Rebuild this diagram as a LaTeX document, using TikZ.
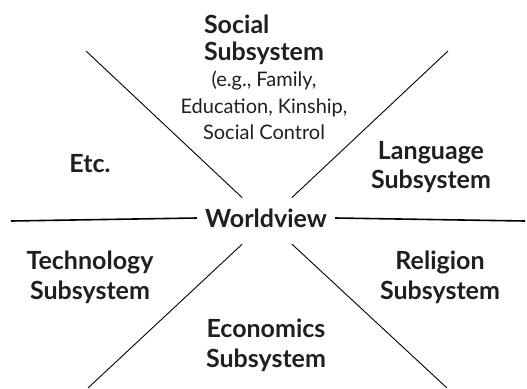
\documentclass[tikz,border=0pt]{standalone}
\usepackage{fontspec}
\setmainfont{Lato}
\usepackage{tikz}
\tikzset{>=latex}

\begin{document}
\begin{tikzpicture}
  [x=1pt,y=-1pt,
   every node/.style={align=center,inner sep=0pt,text=black!88},
   big/.style={font=\bfseries\fontsize{25}{29.5}\selectfont},
   small/.style={font=\fontsize{20}{26.5}\selectfont}]
  \useasboundingbox (0,0) rectangle (527,388);

  % hub and free ends of the spokes
  \coordinate (hub) at (267,221);
  \coordinate (tl) at (86,51);
  \coordinate (tr) at (448,51);
  \coordinate (bl) at (88,388);
  \coordinate (br) at (447,388);
  \coordinate (wl) at (11,221);
  \coordinate (wr) at (525,221);

  \node[big,inner xsep=8pt] (world) at (266,218) {Worldview};

  \node[big,align=left,font=\bfseries\fontsize{25}{27}\selectfont] (soc) at (264,40) {Social\\Subsystem};
  \node[small] (socx) at (264,105.5) {(e.g., Family,\\Education, Kinship,\\Social Control};
  \node[big] (etc) at (90,164) {Etc.};
  \node[big] (lang) at (431,167.2) {Language\\Subsystem};
  \node[big] (tech) at (90,277.2) {Technology\\Subsystem};
  \node[big] (rel) at (440,277.2) {Religion\\Subsystem};
  \node[big] (eco) at (266,345.2) {Economics\\Subsystem};

  \draw[line width=1.6pt] (wl) -- (world.west);
  \draw[line width=1.6pt] (world.east) -- (wr);
  \foreach \e in {tl,tr,bl,br}
    \draw[line width=0.9pt,shorten <=34pt] (hub) -- (\e);
\end{tikzpicture}
\end{document}
